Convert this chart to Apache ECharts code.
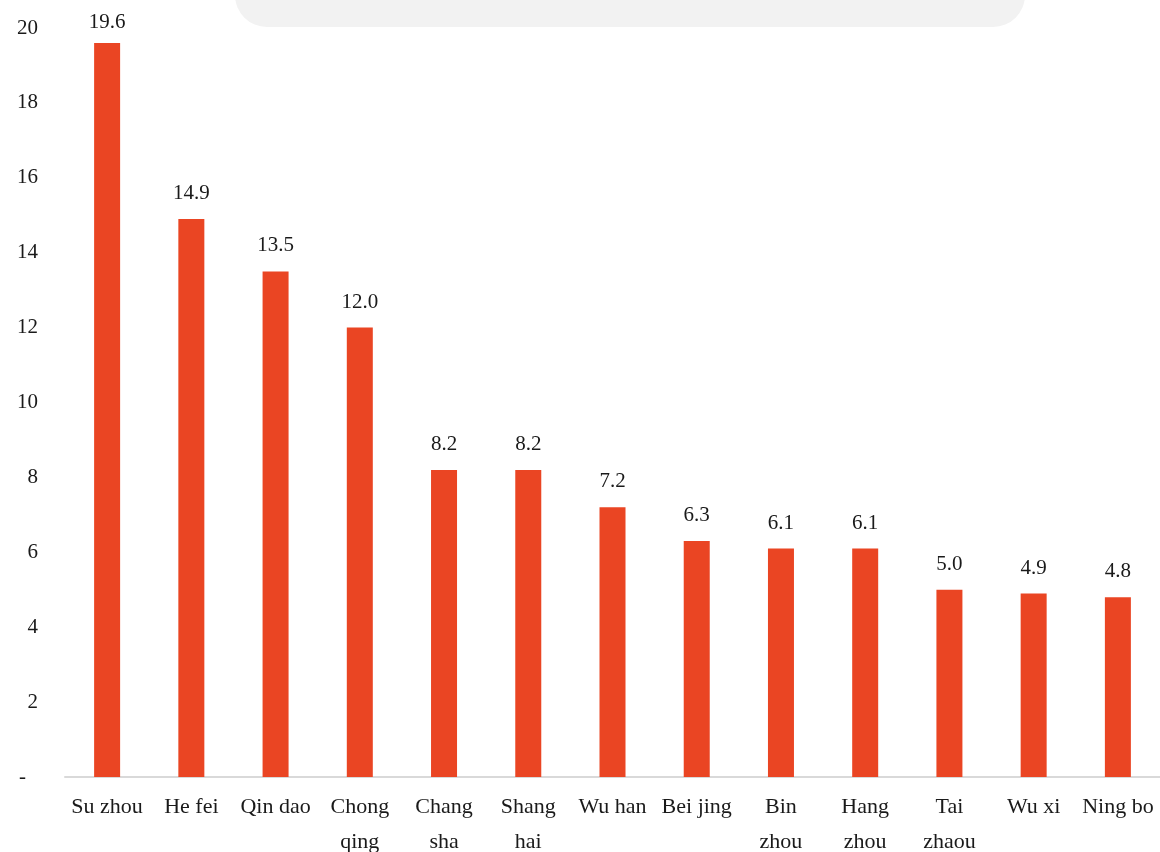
<!DOCTYPE html>
<html>
<head>
<meta charset="utf-8">
<script src="https://cdn.jsdelivr.net/npm/echarts@6/dist/echarts.min.js"></script>
<style>
html, body { margin: 0; padding: 0; background: #fff; }
#cityChart { width: 1160px; height: 852px; }
</style>
</head>
<body>
<div id="cityChart"></div>
<script>
// 城市名称（两行的用换行）
var cities = ['Su zhou', 'He fei', 'Qin dao', 'Chong\nqing', 'Chang\nsha', 'Shang\nhai',
	'Wu han', 'Bei jing', 'Bin\nzhou', 'Hang\nzhou', 'Tai\nzhaou', 'Wu xi', 'Ning bo'];
var values = [19.6, 14.9, 13.5, 12.0, 8.2, 8.2, 7.2, 6.3, 6.1, 6.1, 5.0, 4.9, 4.8];
var yTicks = [0, 2, 4, 6, 8, 10, 12, 14, 16, 18, 20];

var fontName = '"Liberation Serif", "DejaVu Serif", serif';
var barColor = '#EA4523';

var cityChart = echarts.init(document.getElementById('cityChart'));

// 最高的柱子标签离顶部太近，单独调小距离
var barData = [];
for (var i = 0; i < values.length; i++) {
	if (values[i] > 19) {
		barData.push({ value : values[i], label : { distance : 10 } });
	} else {
		barData.push(values[i]);
	}
}

var option = {
	animation : false,
	textStyle : {
		fontFamily : fontName
	},
	graphic : [ {
		type : 'rect',
		z : -1,
		shape : { x : 235, y : -60, width : 790, height : 87, r : 32 },
		style : { fill : '#F2F2F2' }
	} ],
	grid : {
		left : 65,
		right : 0,
		top : 28,
		bottom : 75,
		containLabel : false,
		outerBoundsMode : 'none'
	},
	xAxis : [ {
		type : 'category',
		data : cities,
		axisLine : {
			lineStyle : { color : '#D9D9D9', width : 2 }
		},
		axisTick : { show : false },
		axisLabel : {
			interval : 0,
			margin : 13,
			fontFamily : fontName,
			fontSize : 22,
			lineHeight : 35,
			color : '#1a1a1a'
		}
	} ],
	yAxis : [ {
		type : 'value',
		min : yTicks[0],
		max : yTicks[yTicks.length - 1],
		interval : 2,
		splitLine : { show : false },
		axisLine : { show : false },
		axisTick : { show : false },
		axisLabel : {
			margin : 27,
			fontFamily : fontName,
			fontSize : 21,
			color : '#1a1a1a',
			formatter : function(v) {
				return v === 0 ? '{z|-}' : String(v);
			},
			rich : {
				z : { fontFamily : fontName, fontSize : 21, color : '#1a1a1a', padding : [ 0, 12, 0, 0 ] }
			}
		}
	} ],
	series : [ {
		type : 'bar',
		data : barData,
		barWidth : 26,
		itemStyle : { color : barColor },
		label : {
			show : true,
			position : 'top',
			distance : 15,
			fontFamily : fontName,
			fontSize : 21,
			color : '#1a1a1a',
			formatter : function(p) {
				return p.value.toFixed(1);
			}
		}
	} ]
};
cityChart.setOption(option);
</script>
</body>
</html>
